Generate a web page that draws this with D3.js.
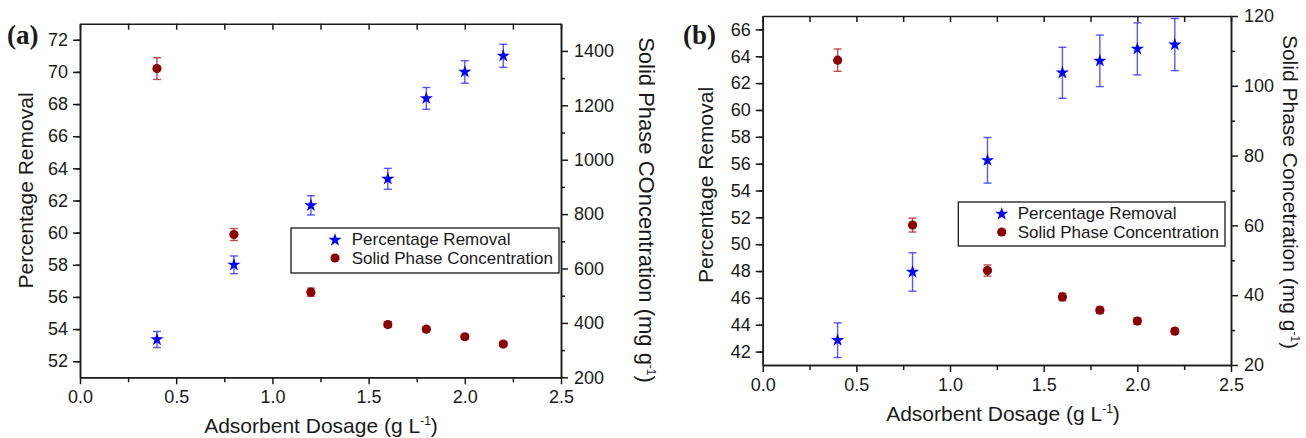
<!DOCTYPE html>
<html>
<head>
<meta charset="utf-8">
<script src="https://cdn.jsdelivr.net/npm/d3@7"></script>
<style>
  body { margin: 0; background: #fff; }
  svg { display: block; font-family: "Liberation Sans", Arial, sans-serif; }
</style>
</head>
<body>
<div id="chart"></div>
<script>
// dades llegides de la figura
const dosage = [0.4, 0.8, 1.2, 1.6, 1.8, 2.0, 2.2];

const removalA = [53.35, 58.0, 61.7, 63.35, 68.35, 70.0, 71.0];
const removalErrA = [0.5, 0.55, 0.6, 0.65, 0.68, 0.7, 0.72];
const solidA = [1335, 725, 513, 394, 377, 349, 322];
const solidErrA = [40, 22, 15, 10, 9, 8, 8];

const removalB = [42.85, 47.93, 56.25, 62.77, 63.66, 64.55, 64.87];
const removalErrB = [1.29, 1.43, 1.7, 1.9, 1.92, 1.94, 1.94];
const solidB = [107.35, 60.1, 47.07, 39.5, 35.7, 32.6, 29.7];
const solidErrB = [3.2, 2.0, 1.6, 1.1, 0.9, 0.9, 0.8];

const xTicks = [0, 0.5, 1.0, 1.5, 2.0, 2.5];
const xMinor = [0.25, 0.75, 1.25, 1.75, 2.25];
const leftTicksA = [52, 54, 56, 58, 60, 62, 64, 66, 68, 70, 72];
const rightTicksA = [200, 400, 600, 800, 1000, 1200, 1400];
const leftTicksB = [42, 44, 46, 48, 50, 52, 54, 56, 58, 60, 62, 64, 66];
const rightTicksB = [20, 40, 60, 80, 100, 120];

const legendLabels = ["Percentage Removal", "Solid Phase Concentration"];

const blue = "#0000ff", red = "#8b0000";

const svg = d3.select("#chart").append("svg")
    .attr("width", 1306)
    .attr("height", 438);

function drawPanel(p) {
    const x = d3.scaleLinear().domain([0, 2.5]).range([p.x0, p.x1]);
    const yL = d3.scaleLinear().domain(p.leftDomain).range([p.y1, p.y0]);
    const yR = d3.scaleLinear().domain(p.rightDomain).range([p.y1, p.y0]);

    const g = svg.append("g");

    // ticks menors
    const leftMinor = d3.range(p.leftDomain[0] + 1, p.leftDomain[1], 2);
    const rightStep = p.rightTicks[1] - p.rightTicks[0];
    const rightMinor = d3.range(p.rightTicks[0] + rightStep / 2, p.rightDomain[1], rightStep);

    function styleAxis(sel) {
        sel.selectAll("path, line").attr("stroke", "#1a1a1a").attr("stroke-width", 1.5);
        sel.selectAll("text").attr("fill", "#1a1a1a").style("font-size", "18px")
            .style("font-family", "'Liberation Sans', Arial, sans-serif");
    }

    // eix inferior
    g.append("g").attr("transform", `translate(0,${p.y1})`)
        .call(d3.axisBottom(x).tickValues(xTicks).tickFormat(d3.format(".1f")).tickSize(7).tickSizeOuter(0).tickPadding(6))
        .call(styleAxis);
    g.append("g").attr("transform", `translate(0,${p.y1})`)
        .call(d3.axisBottom(x).tickValues(xMinor).tickFormat("").tickSize(5).tickSizeOuter(0))
        .call(styleAxis);
    // eix superior (ticks cap a dins)
    g.append("g").attr("transform", `translate(0,${p.y0})`)
        .call(d3.axisBottom(x).tickValues(xTicks.concat(xMinor)).tickFormat("").tickSize(6).tickSizeOuter(0))
        .call(styleAxis);

    // eix esquerre
    g.append("g").attr("transform", `translate(${p.x0},0)`)
        .call(d3.axisLeft(yL).tickValues(p.leftTicks).tickFormat(d3.format("d")).tickSize(7).tickSizeOuter(0).tickPadding(5))
        .call(styleAxis);
    g.append("g").attr("transform", `translate(${p.x0},0)`)
        .call(d3.axisLeft(yL).tickValues(leftMinor).tickFormat("").tickSize(4).tickSizeOuter(0))
        .call(styleAxis);

    // eix dret
    g.append("g").attr("transform", `translate(${p.x1},0)`)
        .call(d3.axisRight(yR).tickValues(p.rightTicks).tickFormat(d3.format("d")).tickSize(7).tickSizeOuter(0).tickPadding(6))
        .call(styleAxis);
    g.append("g").attr("transform", `translate(${p.x1},0)`)
        .call(d3.axisRight(yR).tickValues(rightMinor).tickFormat("").tickSize(4).tickSizeOuter(0))
        .call(styleAxis);

    // barres d'error i punts
    function errorBars(vals, errs, y, color) {
        const eg = g.append("g").attr("stroke", color).attr("stroke-width", 1.4).attr("stroke-opacity", 0.75);
        dosage.forEach((d, i) => {
            const cx = x(d), top = y(vals[i] + errs[i]), bot = y(vals[i] - errs[i]);
            eg.append("line").attr("x1", cx).attr("x2", cx).attr("y1", top).attr("y2", bot);
            eg.append("line").attr("x1", cx - 4).attr("x2", cx + 4).attr("y1", top).attr("y2", top);
            eg.append("line").attr("x1", cx - 4).attr("x2", cx + 4).attr("y1", bot).attr("y2", bot);
        });
    }
    errorBars(p.solid, p.solidErr, yR, "#a01818");
    errorBars(p.removal, p.removalErr, yL, "#2020ff");

    const star = d3.symbol(d3.symbolStar).size(55);
    g.selectAll(".star").data(dosage).enter().append("path")
        .attr("d", star)
        .attr("transform", (d, i) => `translate(${x(d)},${yL(p.removal[i])})`)
        .attr("fill", blue);
    g.selectAll(".dot").data(dosage).enter().append("circle")
        .attr("cx", d => x(d))
        .attr("cy", (d, i) => yR(p.solid[i]))
        .attr("r", 4.6)
        .attr("fill", red);

    // llegenda
    const lg = g.append("g");
    lg.append("rect")
        .attr("x", p.leg.x).attr("y", p.leg.y)
        .attr("width", p.leg.w).attr("height", p.leg.h)
        .attr("fill", "#fff").attr("stroke", "#1a1a1a").attr("stroke-width", 1.3);
    lg.append("path").attr("d", star)
        .attr("transform", `translate(${p.leg.mx},${p.leg.y + 12})`)
        .attr("fill", blue);
    lg.append("circle").attr("cx", p.leg.mx).attr("cy", p.leg.y + 30).attr("r", 4.6).attr("fill", red);
    legendLabels.forEach((t, i) => {
        lg.append("text")
            .attr("x", p.leg.tx).attr("y", p.leg.y + 17 + i * 18.7)
            .style("font-size", "17px").attr("fill", "#1a1a1a")
            .text(t);
    });

    // títols dels eixos
    const xl = g.append("text")
        .attr("x", p.xLabel[0]).attr("y", p.xLabel[1])
        .attr("text-anchor", "middle").style("font-size", "21px").attr("fill", "#1a1a1a");
    xl.append("tspan").text("Adsorbent Dosage (g L");
    xl.append("tspan").attr("dy", -8).style("font-size", "12px").text("-1");
    xl.append("tspan").attr("dy", 8).text(")");

    g.append("text")
        .attr("transform", `translate(${p.yLabel[0]},${p.yLabel[1]}) rotate(-90)`)
        .attr("text-anchor", "middle").style("font-size", "21px").attr("fill", "#1a1a1a")
        .text("Percentage Removal");

    const rl = g.append("text")
        .attr("transform", `translate(${p.rLabel[0]},${p.rLabel[1]}) rotate(90)`)
        .attr("text-anchor", "middle").style("font-size", p.rSize).attr("fill", "#1a1a1a");
    rl.append("tspan").text(p.rText);
    rl.append("tspan").attr("dy", -8).style("font-size", "12px").text("-1");
    rl.append("tspan").attr("dy", 8).text(")");

    // lletra del panell
    g.append("text")
        .attr("x", p.tag[0]).attr("y", p.tag[1])
        .style("font-family", "'Liberation Serif', 'Times New Roman', serif")
        .style("font-weight", "bold").style("font-size", "27px").attr("fill", "#1a1a1a")
        .text(p.tagText);
}

drawPanel({
    x0: 80, x1: 561, y0: 23.7, y1: 377.3,
    leftDomain: [51, 73], rightDomain: [200, 1500],
    leftTicks: leftTicksA, rightTicks: rightTicksA,
    removal: removalA, removalErr: removalErrA, solid: solidA, solidErr: solidErrA,
    leg: {x: 291, y: 228, w: 268, h: 45, mx: 335, tx: 351.7},
    xLabel: [321, 433], yLabel: [33, 190.5], rLabel: [639, 210],
    rText: "Solid Phase COncentration (mg g", rSize: "22px",
    tag: [7, 43.5], tagText: "(a)"
});

drawPanel({
    x0: 762.7, x1: 1231, y0: 16, y1: 365,
    leftDomain: [41, 67], rightDomain: [20, 120],
    leftTicks: leftTicksB, rightTicks: rightTicksB,
    removal: removalB, removalErr: removalErrB, solid: solidB, solidErr: solidErrB,
    leg: {x: 958.3, y: 202, w: 266.7, h: 44, mx: 1001.7, tx: 1017.7},
    xLabel: [1003, 421], yLabel: [713, 185], rLabel: [1283, 192],
    rText: "Solid Phase Concetration (mg g", rSize: "21px",
    tag: [683, 44], tagText: "(b)"
});
</script>
</body>
</html>
